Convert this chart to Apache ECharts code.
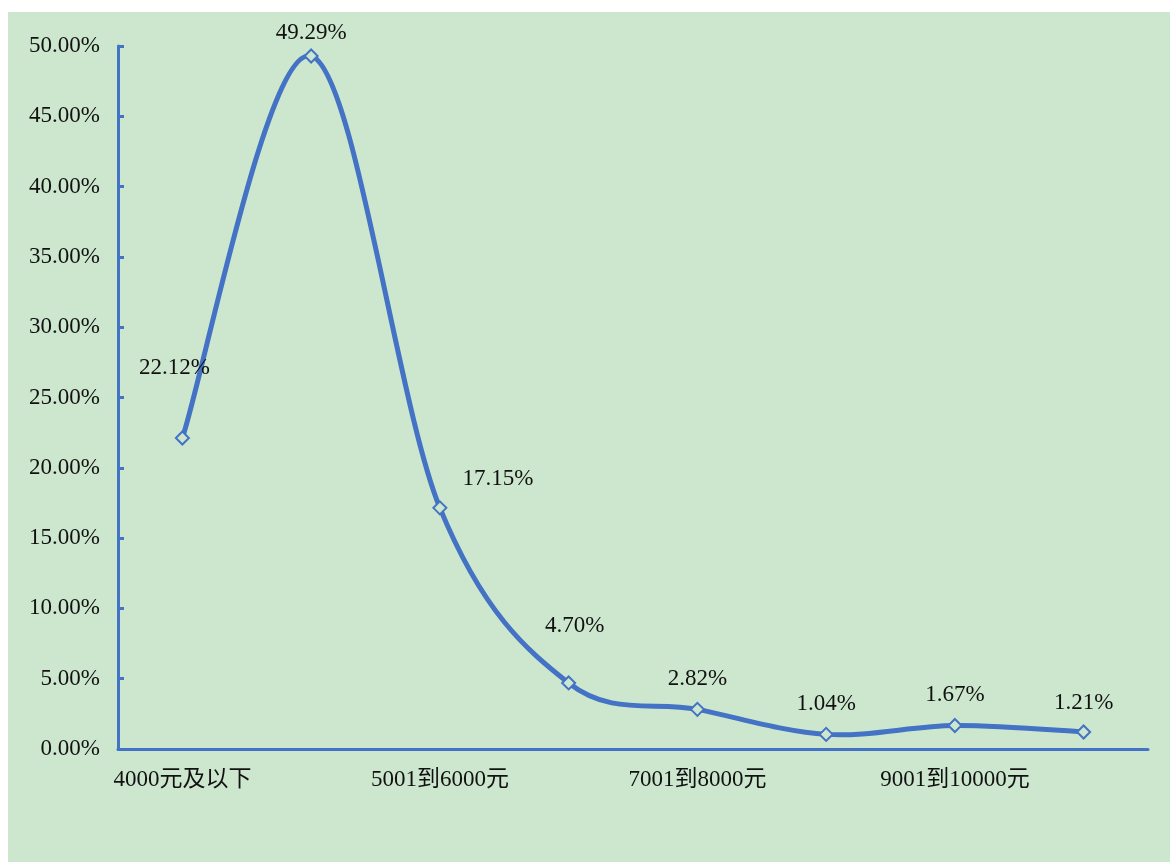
<!DOCTYPE html>
<html><head><meta charset="utf-8">
<script src="https://cdn.jsdelivr.net/npm/echarts@6/dist/echarts.min.js"></script>
<style>
html,body{margin:0;padding:0;background:#fff;width:1170px;height:862px;overflow:hidden}
#c{position:absolute;left:8px;top:12px;width:1162px;height:850px}
</style></head>
<body><div id="c"></div>
<script>
const categories = ["4000元及以下","4001到5000元","5001到6000元","6001到7000元","7001到8000元","8001到9000元","9001到10000元","10000元以上"];
const values = [22.12, 49.29, 17.15, 4.70, 2.82, 1.04, 1.67, 1.21];
const labelOffsets = [[-8,-46],[0,1],[58,-5],[6,-33],[0,-6],[0,-6],[0,-7],[0,-5]];
const yTicks = {min:0, max:50, interval:5};

const BLUE = '#4472C4', BG = '#CDE7CF';
const FONT = '"Liberation Serif", "Noto Sans CJK SC", serif';
const chart = echarts.init(document.getElementById('c'));

// Excel-style smooth curve (Catmull-Rom, tension 1/6) drawn through the axis scales
function renderSegment(params, api) {
  const i = params.dataIndex;
  if (i >= values.length - 1) return null;
  const P = k => api.coord([Math.max(0, Math.min(values.length - 1, k)), values[Math.max(0, Math.min(values.length - 1, k))]]);
  const p0 = P(i - 1), p1 = P(i), p2 = P(i + 1), p3 = P(i + 2);
  return {
    type: 'bezierCurve',
    shape: {
      x1: p1[0], y1: p1[1], x2: p2[0], y2: p2[1],
      cpx1: p1[0] + (p2[0] - p0[0]) / 6, cpy1: p1[1] + (p2[1] - p0[1]) / 6,
      cpx2: p2[0] - (p3[0] - p1[0]) / 6, cpy2: p2[1] - (p3[1] - p1[1]) / 6
    },
    style: { stroke: BLUE, lineWidth: 5, fill: null, lineCap: 'round' }
  };
}

chart.setOption({
  backgroundColor: BG,
  animation: false,
  grid: {left:110, right:22, top:34, bottom:113},
  xAxis: {
    type:'category', data: categories, boundaryGap:true,
    axisLine:{lineStyle:{color:BLUE, width:3}},
    axisTick:{inside:true, length:6, interval:0, lineStyle:{color:BLUE, width:3}},
    axisLabel:{interval:1, color:'#111', fontSize:23, margin:19, fontFamily:FONT}
  },
  yAxis: {
    type:'value', min:yTicks.min, max:yTicks.max, interval:yTicks.interval,
    axisLine:{show:true, lineStyle:{color:BLUE, width:3}},
    axisTick:{show:true, inside:true, length:6, lineStyle:{color:BLUE, width:3}},
    splitLine:{show:false},
    axisLabel:{color:'#111', fontSize:23, margin:18, fontFamily:FONT, formatter:v=>v.toFixed(2)+'%'}
  },
  series: [{
    type:'custom', renderItem: renderSegment, z: 1,
    data: values.map((v,i)=>[i, v]), silent:true
  },{
    type:'line', z: 2,
    data: values.map((v,i)=>({value:v, label:{offset:labelOffsets[i]}})),
    symbol:'diamond', symbolSize:13,
    lineStyle:{width:0, opacity:0},
    itemStyle:{color:BG, borderColor:BLUE, borderWidth:2},
    label:{show:true, position:'top', distance:5, color:'#111', fontSize:23, fontFamily:FONT,
      formatter:p=>p.value.toFixed(2)+'%'}
  }]
});
</script></body></html>
